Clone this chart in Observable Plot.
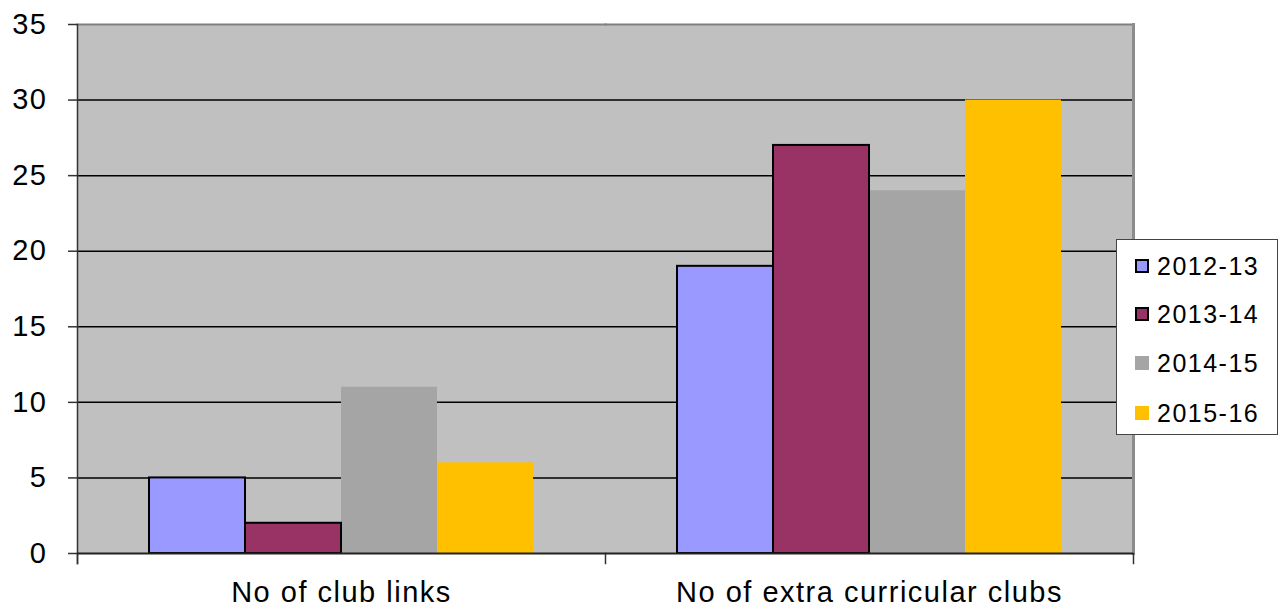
<!DOCTYPE html>
<html>
<head>
<meta charset="utf-8">
<script src="https://cdn.jsdelivr.net/npm/d3@7"></script>
<script src="https://cdn.jsdelivr.net/npm/@observablehq/plot@0.6"></script>
<style>
  html, body { margin: 0; padding: 0; background: #fff; }
  #wrap { position: relative; width: 1279px; height: 607px; font-family: "Liberation Sans", Arial, sans-serif; }
  #legend { position: absolute; left: 1116px; top: 239px; width: 162px; height: 196px; background: #fff; border: 1px solid #444; box-sizing: border-box; }
  .item { position: absolute; left: 18px; display: flex; align-items: center; font-size: 25px; letter-spacing: 1.5px; color: #000; }
  .sw { width: 14px; height: 14px; box-sizing: border-box; margin-right: 8px; }
</style>
</head>
<body>
<div id="wrap"><div id="legend"></div></div>
<script>
const categories = ["No of club links", "No of extra curricular clubs"];
const years = ["2012-13", "2013-14", "2014-15", "2015-16"];
const clubLinks = [5, 2, 11, 6];
const extraClubs = [19, 27, 24, 30];
const colors = ["#9999FF", "#993366", "#A5A5A5", "#FFC000"];
const outlined = ["2012-13", "2013-14"];
const yTicks = [0, 5, 10, 15, 20, 25, 30, 35];
const gridTicks = [5, 10, 15, 20, 25, 30];

const seriesByCat = [clubLinks, extraClubs];
const data = [];
categories.forEach((c, ci) => years.forEach((y, yi) => data.push({cat: c, year: y, value: seriesByCat[ci][yi]})));

const plotH = 607 - 24 - 54;

const chart = Plot.plot({
  width: 1279,
  height: 607,
  marginLeft: 76,
  marginRight: 146,
  marginTop: 24,
  marginBottom: 54,
  style: {fontFamily: "Liberation Sans, Arial, sans-serif", fontSize: "29px", color: "#000", background: "transparent"},
  fx: {domain: categories, padding: 0, axis: null, label: null},
  x: {domain: years, paddingInner: 0, paddingOuter: 0.74, axis: null, label: null},
  y: {domain: [0, 35], axis: null, label: null},
  color: {domain: years, range: colors},
  marks: [
    Plot.frame({fill: "#C0C0C0", stroke: "#C0C0C0", strokeWidth: 1}),
    Plot.ruleY(gridTicks, {stroke: "#000", strokeWidth: 1.5}),
    Plot.barY(data.filter(d => !outlined.includes(d.year)), {fx: "cat", x: "year", y: "value", fill: "year"}),
    Plot.barY(data.filter(d => outlined.includes(d.year)), {fx: "cat", x: "year", y: "value", fill: "year", stroke: "#000", strokeWidth: 2}),
    Plot.frame({anchor: "top", stroke: "#808080", strokeWidth: 2}),
    Plot.frame({anchor: "right", facetAnchor: "right", stroke: "#8c8c8c", strokeWidth: 3}),
    Plot.frame({anchor: "left", facetAnchor: "left", stroke: "#333", strokeWidth: 1.5, insetBottom: -10}),
    Plot.frame({anchor: "left", stroke: "#333", strokeWidth: 1.5, insetTop: plotH, insetBottom: -10}),
    Plot.frame({anchor: "right", facetAnchor: "right", stroke: "#333", strokeWidth: 1.5, insetTop: plotH, insetBottom: -10}),
    Plot.ruleY([0], {stroke: "#222", strokeWidth: 2}),
    Plot.axisY({anchor: "left", label: null, ticks: yTicks, tickSize: 9, tickPadding: 21, tickFormat: d => String(d), stroke: "#333", strokeWidth: 1.5, fontSize: 29}),
    Plot.axisFx({anchor: "bottom", tickSize: 0, tickPadding: 28, fontSize: 29, label: null})
  ]
});
chart.querySelectorAll("text").forEach(t => t.style.letterSpacing = "1.5px");
document.getElementById("wrap").prepend(chart);
chart.style.position = "absolute";
chart.style.left = "0px";
chart.style.top = "0px";

const legend = d3.select("#legend");
const rowCenters = [26, 74, 123, 173];
years.forEach((y, i) => {
  const item = legend.append("div").attr("class", "item").style("top", (rowCenters[i] - 15) + "px").style("height", "30px");
  item.append("div").attr("class", "sw")
    .style("background", colors[i])
    .style("border", outlined.includes(y) ? "2px solid #000" : "none");
  item.append("span").text(y);
});
</script>
</body>
</html>
